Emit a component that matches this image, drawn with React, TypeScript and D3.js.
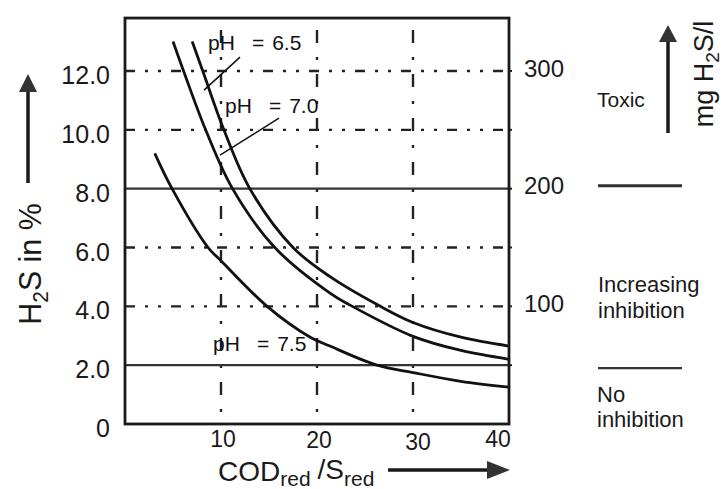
import React from "react";
import * as d3 from "d3";

const W = 728;
const H = 489;

// axis data
const xTicks = [10, 20, 30, 40];
const xTickLabels = ["10", "20", "30", "40"];
const yTicks = [0, 2, 4, 6, 8, 10, 12];
const yTickLabels = ["0", "2.0", "4.0", "6.0", "8.0", "10.0", "12.0"];
const gridY = [4, 6, 10, 12];
const solidY = [2, 8];
const gridX = [10, 20, 30];
const mgTicks = [100, 200, 300];
const mgPerPercent = 25;

// curves (COD/S ratio, H2S %)
const ph65X = [7.0, 8.1, 10.3, 13.0, 17.5, 21.4, 26.6, 30, 35, 40];
const ph65Y = [13.0, 12.0, 10.0, 8.0, 6.0, 5.0, 4.0, 3.45, 2.95, 2.65];
const ph70X = [5.0, 6.1, 8.4, 11.2, 15.6, 21.35, 23.4, 30, 35, 40];
const ph70Y = [13.0, 12.0, 10.0, 8.0, 6.0, 4.45, 4.05, 2.98, 2.5, 2.2];
const ph75X = [3.1, 4.9, 8.65, 10, 14.8, 19.3, 21.35, 26.25, 30, 35, 40];
const ph75Y = [9.2, 8.0, 6.0, 5.55, 4.0, 2.95, 2.65, 2.0, 1.75, 1.45, 1.25];

// curve labels (data coords of label start / baseline)
const phValues = ["6.5", "7.0", "7.5"];
const phLabelX = [8.65, 10.42, 9.17];
const phLabelY = [12.71, 10.57, 2.48];
// leader lines [x1, y1, x2, y2] in data coords
const leader65 = [8.23, 11.35, 11.98, 12.47];
const leader70 = [9.9, 9.14, 16.04, 10.4];

const FONT = "'Liberation Sans', Arial, Helvetica, sans-serif";

export default function App() {
  const x = d3.scaleLinear().domain([0, 40]).range([125, 509]);
  const y = d3.scaleLinear().domain([0, 12]).range([424, 71]);
  const yTop = 13.8;

  const line = d3
    .line<[number, number]>()
    .x((d) => x(d[0]))
    .y((d) => y(d[1]))
    .curve(d3.curveCatmullRom.alpha(0.5));

  const curves = [
    d3.zip(ph65X, ph65Y) as [number, number][],
    d3.zip(ph70X, ph70Y) as [number, number][],
    d3.zip(ph75X, ph75Y) as [number, number][],
  ];

  const x0 = x(0), x1 = x(40), y0 = y(0), y1 = y(yTop);

  return (
    <svg
      width={W}
      height={H}
      viewBox={`0 0 ${W} ${H}`}
      style={{ position: "absolute", left: 0, top: 0, background: "#fff", display: "block" }}
      fontFamily={FONT}
    >
      <rect x={0} y={0} width={W} height={H} fill="#fff" />

      {/* horizontal dash-dot gridlines */}
      {gridY.map((v) => (
        <line
          key={"gy" + v}
          x1={x0}
          x2={x1}
          y1={y(v)}
          y2={y(v)}
          stroke="#222"
          strokeWidth={2.4}
          strokeDasharray="10 10 3 10 3 10"
        />
      ))}
      {/* vertical dash-dot gridlines */}
      {gridX.map((v) => (
        <line
          key={"gx" + v}
          x1={x(v)}
          x2={x(v)}
          y1={y1 + 12}
          y2={y0}
          stroke="#222"
          strokeWidth={2.4}
          strokeDasharray="13 14 3 14"
        />
      ))}
      {/* solid thresholds */}
      {solidY.map((v) => (
        <line key={"sy" + v} x1={x0} x2={x1} y1={y(v)} y2={y(v)} stroke="#333" strokeWidth={2.4} />
      ))}

      {/* curves */}
      {curves.map((c, i) => (
        <path key={"c" + i} d={line(c) || ""} fill="none" stroke="#111" strokeWidth={2.8} />
      ))}

      {/* leader lines */}
      {[leader65, leader70].map((l, i) => (
        <line
          key={"ld" + i}
          x1={x(l[0])}
          y1={y(l[1])}
          x2={x(l[2])}
          y2={y(l[3])}
          stroke="#111"
          strokeWidth={1.5}
        />
      ))}

      {/* curve labels */}
      {phValues.map((v, i) => (
        <text key={"pl" + i} x={x(phLabelX[i])} y={y(phLabelY[i])} fontSize={21} fill="#111">
          pH
          <tspan dx={17}>=</tspan>
          <tspan dx={8}>{v}</tspan>
        </text>
      ))}

      {/* frame */}
      <rect x={x0} y={y1} width={x1 - x0} height={y0 - y1} fill="none" stroke="#1a1a1a" strokeWidth={2.8} />
      {gridY.concat(solidY).map((v) => (
        <line key={"rt" + v} x1={x1} x2={x1 + 3} y1={y(v)} y2={y(v)} stroke="#222" strokeWidth={2} />
      ))}

      {/* left tick labels */}
      {yTicks.map((v, i) => (
        <text
          key={"yt" + v}
          x={110}
          y={y(v) + 4}
          fontSize={25}
          textAnchor="end"
          dominantBaseline="central"
          fill="#1a1a1a"
        >
          {yTickLabels[i]}
        </text>
      ))}

      {/* right tick labels (mg H2S/l) */}
      {mgTicks.map((m) => (
        <text
          key={"mt" + m}
          x={524}
          y={y(m / mgPerPercent) - 3}
          fontSize={24}
          dominantBaseline="central"
          fill="#1a1a1a"
        >
          {m}
        </text>
      ))}

      {/* bottom tick labels */}
      {xTicks.map((v, i) => (
        <text
          key={"xt" + v}
          x={v === 40 ? x(v) - 11 : x(v) + (v === 30 ? 5 : 2)}
          y={447 + (v === 30 ? 3 : v === 20 ? 1 : 0)}
          fontSize={23}
          textAnchor="middle"
          fill="#1a1a1a"
        >
          {xTickLabels[i]}
        </text>
      ))}

      {/* left axis title with arrow */}
      <g transform={`translate(41,264) rotate(-90) scale(0.95,1)`}>
        <text x={0} y={0} fontSize={32} textAnchor="middle" fill="#1a1a1a">
          H<tspan fontSize={22} dy={7}>2</tspan>
          <tspan dy={-7}>S in %</tspan>
        </text>
      </g>
      <line x1={28} x2={28} y1={183} y2={90} stroke="#1a1a1a" strokeWidth={3.5} />
      <polygon points="19,92 28,74 37,92" fill="#333" />

      {/* right axis title with arrow */}
      <g transform={`translate(713,74) rotate(-90)`}>
        <text x={0} y={0} fontSize={27} textAnchor="middle" fill="#1a1a1a">
          mg H<tspan fontSize={19} dy={6}>2</tspan>
          <tspan dy={-6}>S/l</tspan>
        </text>
      </g>
      <line x1={668} x2={668} y1={133} y2={40} stroke="#1a1a1a" strokeWidth={3.5} />
      <polygon points="659,42 668,25 677,42" fill="#333" />

      {/* bottom axis title with arrow */}
      <text x={218} y={481} fontSize={28} fill="#1a1a1a">
        COD
        <tspan fontSize={21} dy={5}>red</tspan>
        <tspan dy={-7} dx={7}>/S</tspan>
        <tspan fontSize={21} dy={7}>red</tspan>
      </text>
      <line x1={388} x2={492} y1={470} y2={470} stroke="#1a1a1a" strokeWidth={3.5} />
      <polygon points="487,461 510,470 487,479" fill="#333" />

      {/* right-hand zones */}
      <text x={597} y={107} fontSize={21} fill="#1a1a1a">Toxic</text>
      <line x1={598} x2={682} y1={y(8) - 3} y2={y(8) - 3} stroke="#333" strokeWidth={3} />
      <text x={598} y={292} fontSize={22} fill="#1a1a1a">Increasing</text>
      <text x={598} y={318} fontSize={22} fill="#1a1a1a">inhibition</text>
      <line x1={598} x2={682} y1={y(2) + 3} y2={y(2) + 3} stroke="#333" strokeWidth={2.2} />
      <text x={597} y={402} fontSize={22} fill="#1a1a1a">No</text>
      <text x={597} y={427} fontSize={22} fill="#1a1a1a">inhibition</text>
    </svg>
  );
}
